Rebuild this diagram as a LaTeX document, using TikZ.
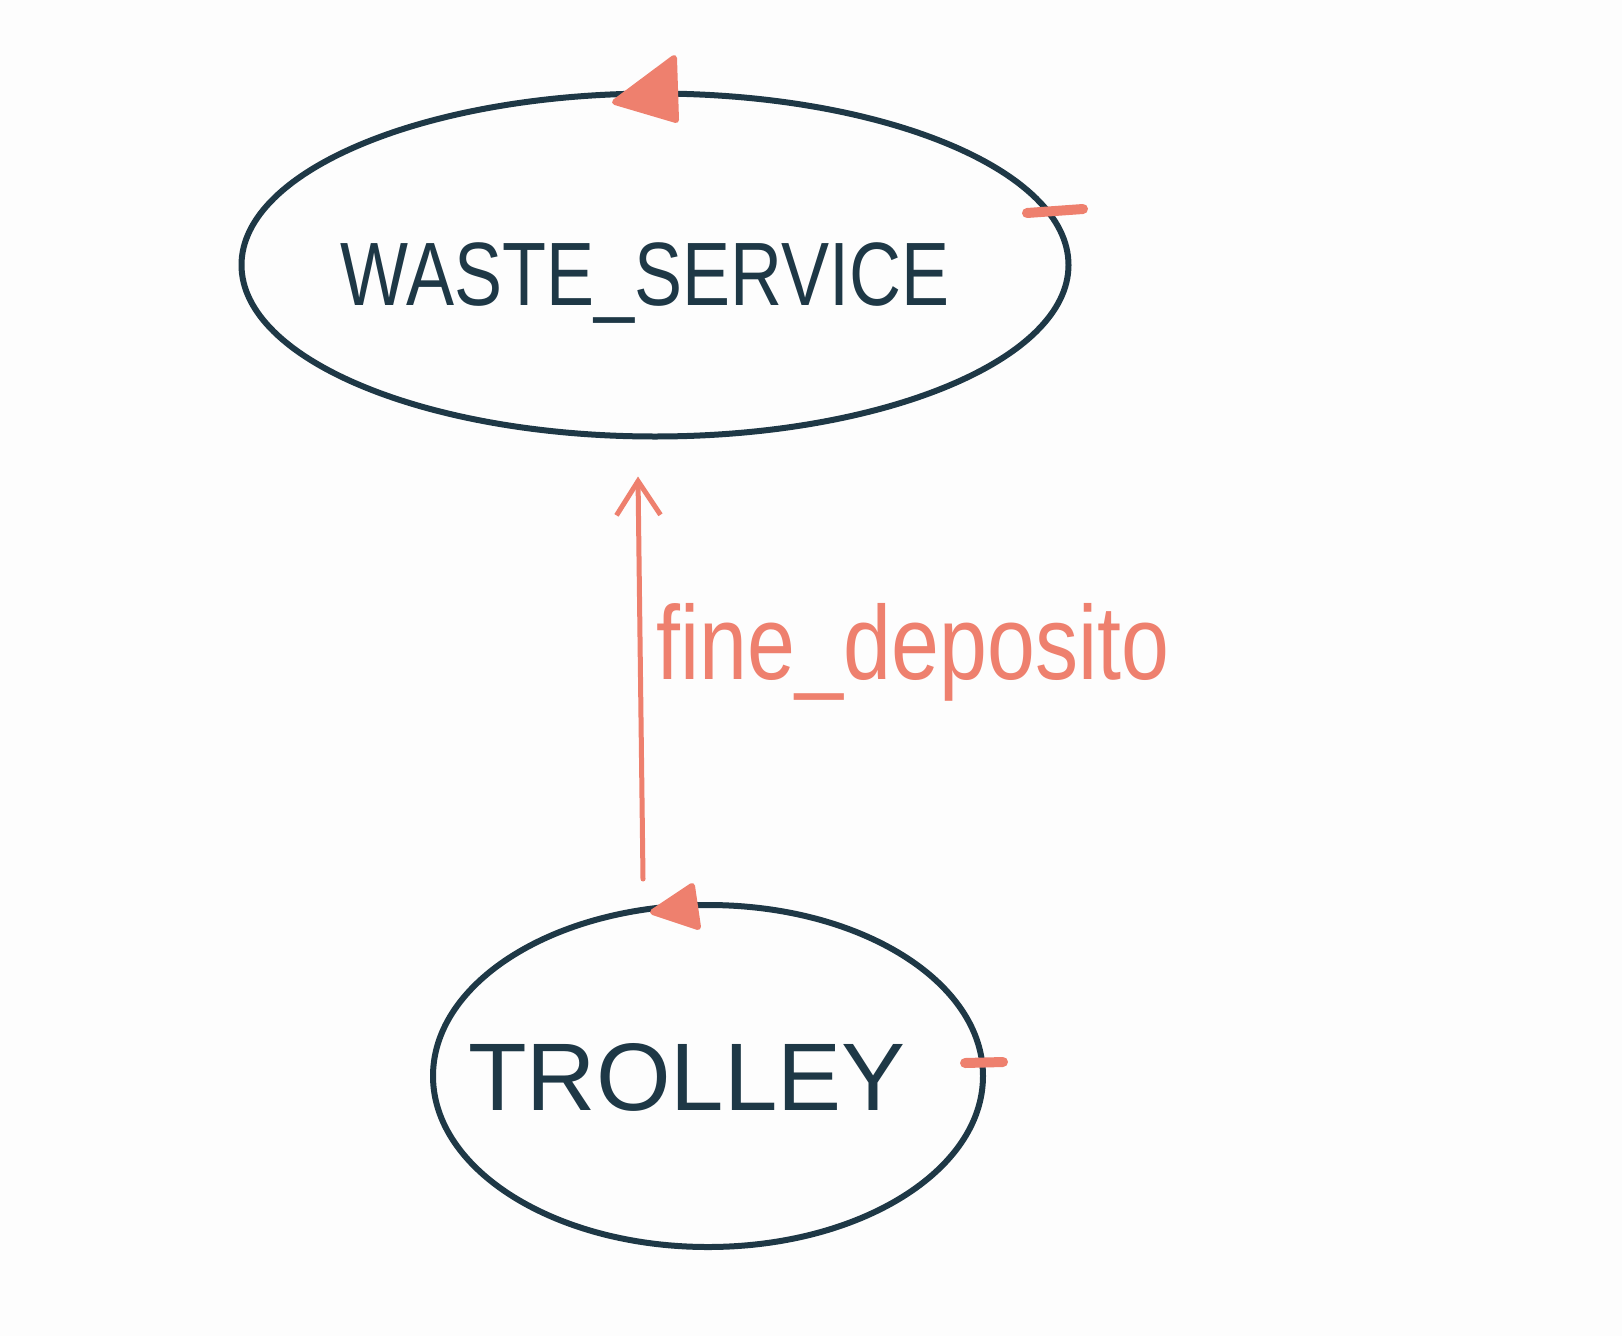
\documentclass[tikz,border=0pt]{standalone}
\usepackage{fontspec}
\setmainfont{Liberation Sans}
\usetikzlibrary{shapes.geometric,arrows.meta}
\definecolor{ink}{HTML}{1E3846}
\definecolor{salmon}{HTML}{EE806E}
\definecolor{paper}{HTML}{FDFDFD}
\tikzset{
  stateell/.style={draw=ink, line width=6pt, ellipse, inner sep=0pt},
  statetext/.style={text=ink, inner sep=0pt},
  flow/.style={draw=salmon, line width=5pt, line cap=round,
    -{Straight Barb[length=34pt,width=44pt,line width=5pt]}},
  marktri/.style={fill=salmon, draw=salmon, line width=6pt, line join=round},
  markdash/.style={draw=salmon, line width=10pt, line cap=round},
}
\begin{document}
\begin{tikzpicture}[x=1pt,y=-1pt]
\fill[paper] (0,0) rectangle (1622,1336);
\useasboundingbox (0,0) rectangle (1622,1336);
% states
\node[stateell, minimum width=827pt, minimum height=343pt] (ws) at (655,265) {};
\node[stateell, minimum width=550pt, minimum height=342pt] (tr) at (708,1076) {};
\node[statetext, font=\fontsize{90}{90}\selectfont] (wslbl) at (645,283) {\scalebox{0.8}[1]{WASTE\_SERVICE}};
\node[statetext, font=\fontsize{96}{96}\selectfont] (trlbl) at (687,1077) {TROLLEY};
% markers
\path[marktri] (674,58) -- (615,102) -- (676,120) -- cycle;
\path[marktri] (692,886) -- (653,912) -- (698,927) -- cycle;
\draw[markdash] (1027,213) -- (1083,209);
\draw[markdash] (965,1063) -- (1003,1062);
% transition
\draw[flow] ([shift={(-65,-23)}]tr.north) -- ([shift={(-17,37)}]ws.south)
  node[pos=0.52, anchor=base west, inner sep=0pt, text=salmon,
       font=\fontsize{105}{105}\selectfont, xshift=14pt, yshift=-10pt] (evt)
  {\scalebox{0.82}[1]{fine\_deposito}};
\end{tikzpicture}
\end{document}
